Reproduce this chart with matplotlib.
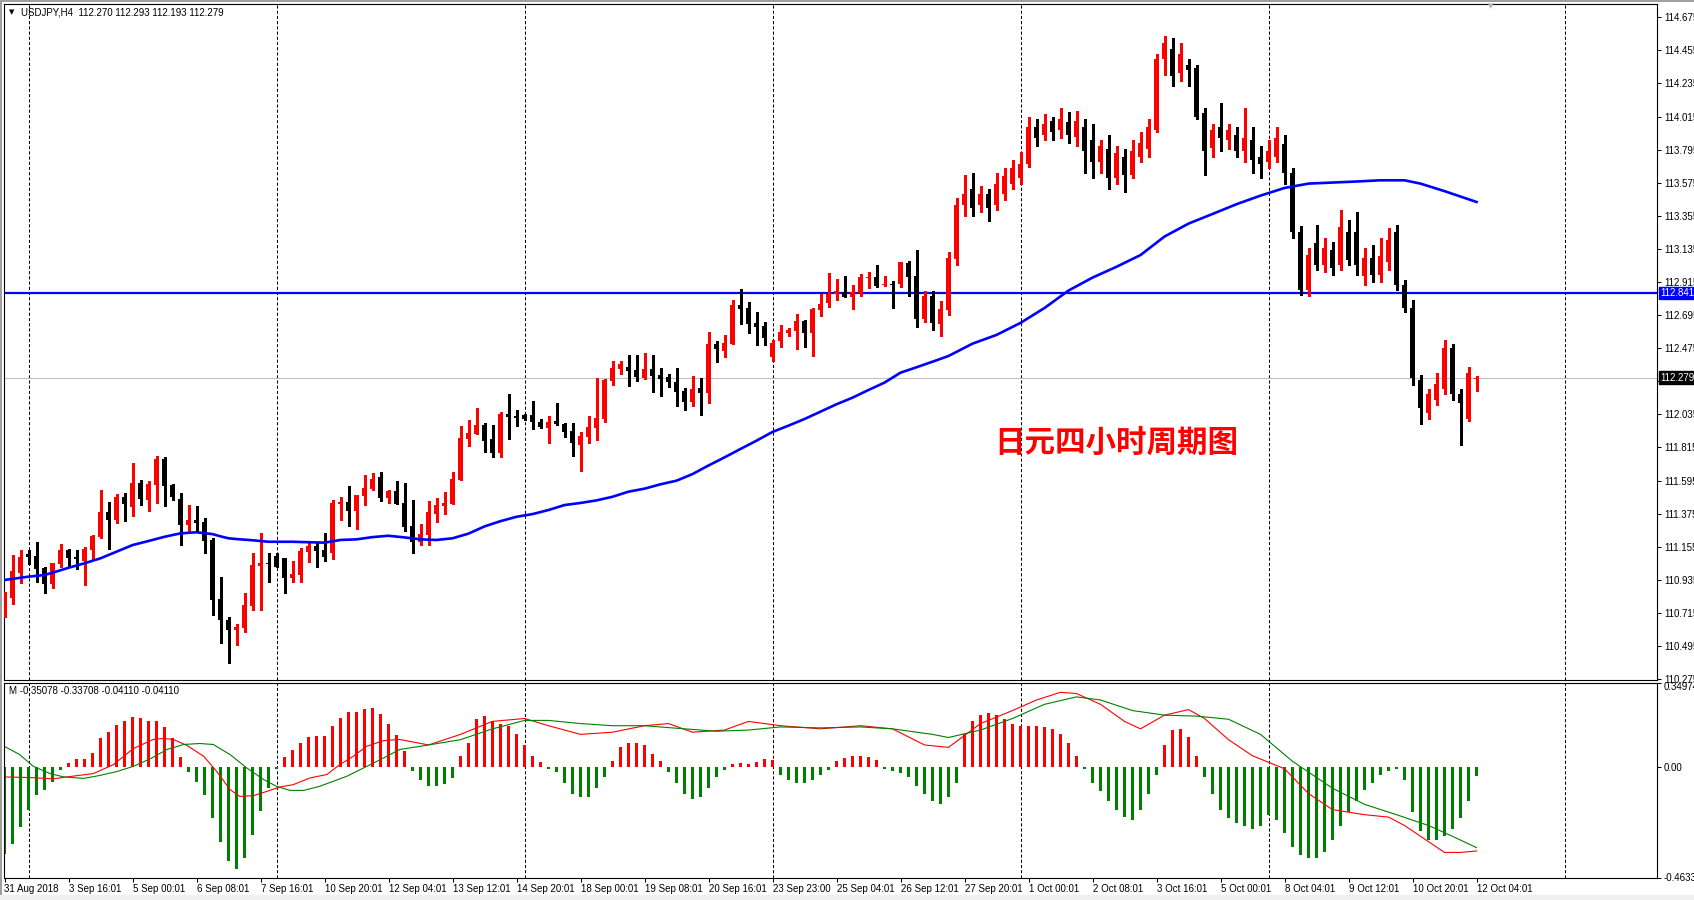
import numpy as np
import matplotlib
matplotlib.use('Agg')
import matplotlib.pyplot as plt
from matplotlib.patches import Rectangle

plt.rcParams['font.family'] = ['Liberation Sans', 'DejaVu Sans']
plt.rcParams['font.size'] = 7

W, H = 1694, 900

# USDJPY H4 candles, bar 0 = 31 Aug 2018
opens = np.array([
    110.821, 110.816, 110.982, 111.105, 111.093, 111.013, 110.907, 111.042, 111.133, 111.087,
    111.062, 111.133, 111.221, 111.386, 111.335, 111.485, 111.421, 111.579, 111.468, 111.567,
    111.738, 111.565, 111.472, 111.301, 111.333, 111.319, 111.200, 110.807, 110.668, 110.603,
    110.614, 110.761, 111.029, 111.047, 111.091, 111.080, 110.949, 110.969, 111.120, 111.160,
    111.133, 111.115, 111.441, 111.452, 111.394, 111.494, 111.541, 111.616, 111.481, 111.525,
    111.444, 111.293, 111.188, 111.235, 111.374, 111.428, 111.441, 111.600, 111.873, 111.906,
    111.964, 111.871, 111.780, 112.037, 112.024, 112.031, 112.031, 111.984, 111.946, 111.991,
    111.971, 111.924, 111.833, 111.886, 111.946, 112.004, 112.259, 112.339, 112.350, 112.330,
    112.279, 112.337, 112.297, 112.283, 112.250, 112.188, 112.117, 112.210, 112.179, 112.503,
    112.458, 112.503, 112.762, 112.742, 112.642, 112.620, 112.418, 112.525, 112.578, 112.591,
    112.656, 112.578, 112.729, 112.777, 112.837, 112.850, 112.817, 112.844, 112.944, 112.948,
    112.893, 112.904, 112.904, 113.039, 112.955, 112.671, 112.822, 112.638, 112.729, 113.068,
    113.427, 113.533, 113.427, 113.497, 113.427, 113.497, 113.569, 113.607, 113.700, 113.942,
    113.892, 113.985, 113.926, 113.979, 113.879, 113.942, 113.859, 113.713, 113.799, 113.607,
    113.746, 113.626, 113.749, 113.799, 113.928, 114.395, 114.467, 114.301, 114.358, 114.338,
    114.036, 113.806, 113.942, 113.856, 113.892, 113.786, 113.856, 113.748, 113.713, 113.748,
    113.835, 113.640, 113.247, 112.862, 113.174, 113.028, 113.128, 113.028, 113.247, 113.247,
    112.955, 113.075, 112.962, 113.048, 113.247, 112.895, 112.742, 112.263, 112.044, 112.130,
    112.204, 112.476, 112.170, 112.004, 112.270])
highs = np.array([
    110.856, 111.100, 111.133, 111.133, 111.186, 111.020, 111.050, 111.173, 111.142, 111.133,
    111.151, 111.230, 111.532, 111.452, 111.505, 111.510, 111.711, 111.599, 111.590, 111.758,
    111.753, 111.570, 111.512, 111.432, 111.426, 111.346, 111.215, 110.956, 110.690, 110.643,
    110.849, 111.113, 111.246, 111.113, 111.115, 111.080, 111.060, 111.146, 111.193, 111.182,
    111.246, 111.466, 111.487, 111.559, 111.500, 111.630, 111.643, 111.652, 111.530, 111.592,
    111.579, 111.466, 111.304, 111.459, 111.481, 111.517, 111.654, 111.958, 111.997, 112.075,
    111.975, 111.964, 112.051, 112.170, 112.064, 112.040, 112.124, 112.006, 112.024, 112.112,
    111.975, 111.975, 111.918, 112.024, 112.279, 112.270, 112.388, 112.388, 112.430, 112.430,
    112.443, 112.430, 112.343, 112.305, 112.343, 112.210, 112.290, 112.277, 112.585, 112.525,
    112.563, 112.795, 112.868, 112.782, 112.716, 112.651, 112.529, 112.629, 112.609, 112.702,
    112.660, 112.740, 112.835, 112.975, 112.935, 112.955, 112.895, 112.968, 112.981, 113.028,
    112.955, 112.922, 113.050, 113.055, 113.128, 112.855, 112.857, 112.789, 113.114, 113.473,
    113.626, 113.640, 113.553, 113.533, 113.640, 113.673, 113.726, 113.779, 114.012, 114.001,
    114.035, 114.012, 114.072, 114.045, 114.052, 114.001, 113.966, 113.859, 113.892, 113.819,
    113.799, 113.859, 113.912, 114.001, 114.431, 114.553, 114.539, 114.504, 114.398, 114.358,
    114.072, 113.966, 114.108, 113.966, 113.942, 114.072, 113.942, 113.819, 113.856, 113.942,
    113.892, 113.676, 113.287, 113.141, 113.294, 113.208, 113.181, 113.394, 113.327, 113.380,
    113.141, 113.161, 113.208, 113.274, 113.294, 112.928, 112.795, 112.297, 112.204, 112.310,
    112.529, 112.505, 112.204, 112.350, 112.293])
lows = np.array([
    110.690, 110.774, 110.916, 111.040, 110.922, 110.849, 110.882, 111.018, 111.018, 111.009,
    110.902, 111.067, 111.216, 111.142, 111.315, 111.328, 111.359, 111.432, 111.394, 111.448,
    111.428, 111.466, 111.168, 111.261, 111.255, 111.111, 110.703, 110.517, 110.380, 110.503,
    110.590, 110.734, 110.734, 110.922, 111.020, 110.849, 110.922, 110.922, 111.053, 111.022,
    111.060, 111.071, 111.335, 111.295, 111.275, 111.434, 111.534, 111.459, 111.448, 111.440,
    111.261, 111.111, 111.166, 111.166, 111.321, 111.370, 111.440, 111.600, 111.825, 111.905,
    111.787, 111.749, 111.753, 111.873, 111.960, 112.000, 111.936, 111.942, 111.847, 111.962,
    111.886, 111.760, 111.660, 111.847, 111.866, 111.986, 112.232, 112.305, 112.225, 112.259,
    112.272, 112.186, 112.159, 112.219, 112.093, 112.066, 112.090, 112.033, 112.112, 112.383,
    112.418, 112.500, 112.638, 112.578, 112.498, 112.498, 112.392, 112.485, 112.556, 112.470,
    112.483, 112.425, 112.691, 112.751, 112.795, 112.815, 112.737, 112.824, 112.877, 112.882,
    112.890, 112.744, 112.884, 112.824, 112.618, 112.651, 112.596, 112.558, 112.696, 113.028,
    113.354, 113.354, 113.380, 113.321, 113.394, 113.460, 113.533, 113.567, 113.680, 113.819,
    113.859, 113.859, 113.872, 113.839, 113.819, 113.640, 113.607, 113.640, 113.533, 113.567,
    113.513, 113.607, 113.713, 113.746, 113.912, 114.291, 114.218, 114.251, 114.218, 114.001,
    113.626, 113.746, 113.786, 113.799, 113.746, 113.713, 113.640, 113.607, 113.676, 113.713,
    113.569, 113.210, 112.829, 112.822, 112.995, 112.981, 112.962, 112.995, 113.028, 112.962,
    112.895, 112.915, 112.915, 112.995, 112.862, 112.716, 112.230, 111.974, 112.004, 112.097,
    112.170, 112.130, 111.831, 111.991, 112.193])
closes = np.array([
    110.827, 110.993, 111.087, 111.089, 111.009, 110.907, 111.047, 111.133, 111.082, 111.075,
    111.140, 111.226, 111.386, 111.335, 111.485, 111.441, 111.579, 111.474, 111.572, 111.738,
    111.561, 111.487, 111.301, 111.333, 111.315, 111.195, 110.801, 110.670, 110.601, 110.621,
    110.767, 111.033, 111.047, 111.038, 111.022, 110.949, 110.973, 111.126, 111.160, 111.126,
    111.089, 111.446, 111.452, 111.394, 111.499, 111.545, 111.605, 111.481, 111.525, 111.441,
    111.288, 111.188, 111.239, 111.386, 111.432, 111.446, 111.605, 111.878, 111.911, 111.964,
    111.860, 111.780, 112.037, 112.019, 112.009, 112.006, 111.986, 111.949, 111.984, 111.973,
    111.920, 111.847, 111.891, 111.951, 112.011, 112.263, 112.343, 112.370, 112.325, 112.281,
    112.337, 112.292, 112.270, 112.252, 112.186, 112.119, 112.204, 112.179, 112.503, 112.472,
    112.509, 112.762, 112.737, 112.638, 112.618, 112.545, 112.509, 112.583, 112.596, 112.656,
    112.578, 112.735, 112.769, 112.837, 112.855, 112.817, 112.850, 112.948, 112.950, 112.890,
    112.902, 112.897, 113.048, 112.950, 112.671, 112.822, 112.644, 112.735, 113.075, 113.427,
    113.497, 113.404, 113.497, 113.404, 113.569, 113.620, 113.676, 113.700, 113.942, 113.870,
    113.966, 113.912, 113.999, 113.892, 113.985, 113.786, 113.713, 113.819, 113.607, 113.773,
    113.626, 113.786, 113.842, 113.942, 114.395, 114.504, 114.287, 114.431, 114.325, 114.014,
    113.786, 113.928, 113.870, 113.928, 113.786, 113.870, 113.726, 113.700, 113.786, 113.870,
    113.640, 113.247, 112.862, 113.095, 113.028, 113.141, 113.008, 113.281, 113.061, 113.028,
    113.075, 112.962, 113.088, 113.194, 112.895, 112.742, 112.277, 112.077, 112.170, 112.240,
    112.476, 112.170, 112.110, 112.310, 112.279])

# blue moving average, read at selected bars
ma_bars = [0, 3, 5, 6, 8, 10, 12, 14, 16, 18, 20, 22, 24, 26, 27, 28, 29, 31, 33, 36,
           40, 42, 44, 46, 48, 50, 52, 54, 56, 58, 60, 62, 64, 66, 68, 70, 72, 74, 76, 78,
           80, 82, 84, 86, 88, 90, 92, 94, 96, 98, 100, 102, 104, 106, 108, 110, 112, 114, 116, 118,
           121, 124, 127, 130, 133, 136, 139, 142, 145, 148, 151, 154, 157, 160, 163, 166, 169, 172, 175, 177,
           180, 182, 184]
ma_vals = [110.934, 110.956, 110.967, 110.982, 111.015, 111.045, 111.078, 111.122, 111.166, 111.193,
           111.221, 111.244, 111.251, 111.239, 111.224, 111.211, 111.206, 111.198, 111.188, 111.188,
           111.182, 111.200, 111.204, 111.219, 111.228, 111.217, 111.204, 111.200, 111.211, 111.242,
           111.290, 111.325, 111.354, 111.372, 111.399, 111.432, 111.446, 111.463, 111.487, 111.521,
           111.541, 111.570, 111.594, 111.638, 111.695, 111.749, 111.805, 111.860, 111.918, 111.960,
           112.004, 112.053, 112.102, 112.146, 112.197, 112.246, 112.312, 112.348, 112.385, 112.423,
           112.505, 112.563, 112.643, 112.742, 112.858, 112.944, 113.016, 113.094, 113.217, 113.303,
           113.367, 113.432, 113.489, 113.540, 113.569, 113.576, 113.583, 113.591, 113.591, 113.569,
           113.519, 113.483, 113.447]

hline_level = 112.841
last_price = 112.279

# MACD panel
macd_hist = np.array([
    -0.364, -0.322, -0.253, -0.179, -0.119, -0.099, -0.065, -0.013, 0.017, 0.031,
    0.033, 0.058, 0.121, 0.143, 0.175, 0.188, 0.208, 0.203, 0.188, 0.188,
    0.163, 0.117, 0.038, -0.024, -0.065, -0.119, -0.215, -0.315, -0.394, -0.424,
    -0.382, -0.286, -0.186, -0.089, -0.012, 0.038, 0.071, 0.100, 0.125, 0.129,
    0.129, 0.167, 0.204, 0.225, 0.225, 0.238, 0.242, 0.217, 0.179, 0.133,
    0.065, -0.018, -0.055, -0.082, -0.082, -0.073, -0.046, 0.045, 0.098, 0.200,
    0.210, 0.188, 0.179, 0.170, 0.134, 0.090, 0.045, 0.018, -0.009, -0.022,
    -0.067, -0.112, -0.125, -0.125, -0.090, -0.045, 0.022, 0.080, 0.098, 0.098,
    0.090, 0.054, 0.022, -0.022, -0.067, -0.112, -0.134, -0.125, -0.090, -0.045,
    -0.014, 0.009, 0.014, 0.009, 0.018, 0.032, 0.027, -0.036, -0.054, -0.067,
    -0.067, -0.054, -0.036, -0.014, 0.022, 0.036, 0.045, 0.045, 0.040, 0.027,
    -0.009, -0.018, -0.027, -0.045, -0.081, -0.112, -0.143, -0.157, -0.125, -0.067,
    0.134, 0.188, 0.214, 0.224, 0.214, 0.200, 0.179, 0.170, 0.170, 0.170,
    0.165, 0.157, 0.134, 0.098, 0.045, -0.009, -0.067, -0.103, -0.143, -0.179,
    -0.210, -0.224, -0.179, -0.112, -0.036, 0.090, 0.152, 0.157, 0.125, 0.045,
    -0.045, -0.112, -0.179, -0.214, -0.233, -0.245, -0.259, -0.245, -0.200, -0.224,
    -0.277, -0.335, -0.366, -0.380, -0.380, -0.357, -0.304, -0.245, -0.188, -0.143,
    -0.098, -0.067, -0.036, -0.018, -0.009, -0.055, -0.188, -0.268, -0.304, -0.304,
    -0.290, -0.259, -0.214, -0.143, -0.041])

dif_bars = [0.2, 3.6, 6.1, 7.8, 11.1, 13.6, 16.1, 18.6, 19.9, 21.1, 22.8, 24.9, 26.5, 28.2, 29.4,
            31.1, 32.8, 34.4, 36.1, 38.2, 40.3, 41.9, 43.6, 45.3, 47.4, 49.4, 53, 57, 61, 65,
            68, 72, 76, 80, 83, 86, 90, 93, 97, 102, 107, 111, 115, 118, 122, 126, 129, 132, 134,
            137, 140, 142, 145, 148, 150, 153, 156, 160, 163, 166, 170, 173, 175, 178, 180, 182, 184]
dif_vals = [-0.043, -0.046, -0.051, -0.043, -0.029, 0.008, 0.075, 0.113, 0.117, 0.113, 0.088, 0.043,
            -0.019, -0.096, -0.124, -0.121, -0.103, -0.085, -0.075, -0.047, -0.033, 0.008, 0.043,
            0.085, 0.108, 0.113, 0.09, 0.134, 0.188, 0.2, 0.17, 0.134, 0.143, 0.17, 0.179, 0.143,
            0.152, 0.188, 0.17, 0.157, 0.17, 0.157, 0.09, 0.08, 0.179, 0.233, 0.277, 0.309, 0.304,
            0.259, 0.188, 0.157, 0.214, 0.237, 0.2, 0.112, 0.045, -0.009, -0.112, -0.179, -0.2,
            -0.21, -0.245, -0.312, -0.357, -0.357, -0.351]
dea_bars = [0.1, 1.9, 3.6, 5.7, 7.4, 9.9, 11.9, 14.0, 16.1, 18.2, 20.3, 22.4, 24.4, 26.1, 28.2,
            30.3, 32.4, 34.0, 35.7, 37.4, 39.4, 42.8, 45.3, 47.4, 49.4, 53, 57, 61, 65, 68,
            72, 76, 80, 85, 89, 93, 97, 102, 107, 111, 116, 118, 122, 126, 130, 134, 137, 141,
            145, 149, 153, 157, 161, 166, 170, 174, 178, 181, 184]
dea_vals = [0.082, 0.050, 0.001, -0.029, -0.043, -0.049, -0.037, -0.021, 0.001, 0.032, 0.071, 0.092,
            0.096, 0.092, 0.050, -0.006, -0.054, -0.082, -0.099, -0.099, -0.082, -0.040, 0.001,
            0.036, 0.071, 0.09, 0.112, 0.157, 0.192, 0.192, 0.179, 0.17, 0.17, 0.157, 0.147, 0.152,
            0.165, 0.161, 0.165, 0.157, 0.134, 0.121, 0.152, 0.2, 0.259, 0.29, 0.277, 0.233, 0.214,
            0.21, 0.197, 0.134, 0.022, -0.09, -0.157, -0.2, -0.245, -0.29, -0.337]

time_labels = ['31 Aug 2018', '3 Sep 16:01', '5 Sep 00:01', '6 Sep 08:01', '7 Sep 16:01',
               '10 Sep 20:01', '12 Sep 04:01', '13 Sep 12:01', '14 Sep 20:01', '18 Sep 00:01',
               '19 Sep 08:01', '20 Sep 16:01', '23 Sep 23:00', '25 Sep 04:01', '26 Sep 12:01',
               '27 Sep 20:01', '1 Oct 00:01', '2 Oct 08:01', '3 Oct 16:01', '5 Oct 00:01',
               '8 Oct 04:01', '9 Oct 12:01', '10 Oct 20:01', '12 Oct 04:01']
week_lines = [3.1, 34.1, 65.1, 96.1, 127.1, 158.1, 195.1]
price_ticks = [114.675, 114.455, 114.235, 114.015, 113.795, 113.575, 113.355, 113.135,
               112.915, 112.695, 112.475, 112.255, 112.035, 111.815, 111.595, 111.375,
               111.155, 110.935, 110.715, 110.495, 110.275]
macd_top, macd_bottom = 0.34974, -0.46332

fig = plt.figure(figsize=(W / 100, H / 100), dpi=100)
fig.patch.set_facecolor('white')
ax = fig.add_axes([4 / W, 1 - 680 / H, 1653 / W, 676 / H])
axm = fig.add_axes([4 / W, 1 - 878 / H, 1653 / W, 195.5 / H], sharex=ax)

x = np.arange(len(opens))
up = closes >= opens
colors = np.where(up, '#ff0000', '#000000')
body = np.maximum(np.abs(closes - opens), 0.007)
ax.vlines(x, lows, highs, colors=colors, lw=0.75, antialiased=False, zorder=3)
ax.bar(x, body, bottom=np.minimum(opens, closes), width=0.66, color=colors,
       lw=0, antialiased=False, zorder=4)

ax.plot(ma_bars, ma_vals, color='#0000ff', lw=1.9, zorder=5)
ax.axhline(hline_level, color='#0000ff', lw=1.6, zorder=2)
ax.axhline(last_price, color='#c0c0c0', lw=0.8, zorder=1)

for a in (ax, axm):
    for wx in week_lines:
        a.axvline(wx, color='black', lw=0.75, ls=(0, (3, 2)), zorder=0.5)
    for s in a.spines.values():
        s.set_linewidth(0.8)
        s.set_color('black')

ax.set_xlim(-0.0625, 206.5625)
ax.set_ylim(110.269, 114.763)
ax.yaxis.tick_right()
ax.set_yticks(price_ticks)
ax.set_yticklabels(['%.3f' % p for p in price_ticks])
ax.tick_params(axis='y', length=3, width=0.75, pad=2, labelsize=7)
ax.tick_params(axis='x', bottom=False, labelbottom=False)

# MACD
hist_colors = np.where(macd_hist >= 0, '#ff0000', '#008000')
axm.bar(x, macd_hist, width=0.4, color=hist_colors, lw=0, antialiased=False, zorder=2)
axm.plot(dif_bars, dif_vals, color='#ff0000', lw=0.8, zorder=3)
axm.plot(dea_bars, dea_vals, color='#008000', lw=0.8, zorder=3)
axm.set_ylim(macd_bottom, macd_top)
axm.yaxis.tick_right()
axm.set_yticks([macd_top, 0.0, macd_bottom])
axm.set_yticklabels(['%.5f' % macd_top, '0.00', '%.5f' % macd_bottom])
axm.tick_params(axis='y', length=3, width=0.75, pad=2, labelsize=7)
ylabs = axm.get_yticklabels()
ylabs[0].set_va('top')
ylabs[2].set_va('center')

axm.set_xticks(np.arange(0, len(opens), 8))
axm.set_xticklabels(time_labels)
axm.tick_params(axis='x', length=3, width=0.75, pad=1.5, labelsize=7)
for lab in axm.get_xticklabels():
    lab.set_ha('left')

# price tags on the right scale
for level, fc in ((hline_level, '#0000ff'), (last_price, '#000000')):
    ax.annotate('%.3f' % level, xy=(1, level), xycoords=('axes fraction', 'data'),
                xytext=(3, 0), textcoords='offset pixels', va='center', ha='left',
                color='white', fontsize=7, annotation_clip=False, zorder=10,
                bbox=dict(boxstyle='square,pad=0.12', fc=fc, ec=fc))

# texts
fig.text(9 / W, 1 - 12.5 / H, '\u25bc', fontsize=5, va='center', ha='left',
         family=['DejaVu Sans'])
fig.text(20.5 / W, 1 - 12.7 / H, 'USDJPY,H4  112.270 112.293 112.193 112.279',
         fontsize=7, va='center', ha='left')
fig.text(9 / W, 1 - 691.5 / H, 'M -0.35078 -0.33708 -0.04110 -0.04110',
         fontsize=7, va='center', ha='left')
fig.text(1491 / W, 1 - 6 / H, '\u25bc', fontsize=5, va='center', ha='center',
         color='#b0b0b0', family=['DejaVu Sans'])
fig.text(994 / W, 1 - 443 / H, '日元四小时周期图', color='#ff0000', fontsize=22,
         fontweight='bold', va='center', ha='left',
         family=['Noto Sans CJK SC', 'DejaVu Sans'])

# window frame
fig.add_artist(Rectangle((0, 1 - 2 / H), 1, 2 / H, transform=fig.transFigure,
                         fc='#a0a0a0', ec='none'))
fig.add_artist(Rectangle((0, 0), 2 / W, 1, transform=fig.transFigure,
                         fc='#a0a0a0', ec='none'))
fig.add_artist(Rectangle((0, 0), 1, 5 / H, transform=fig.transFigure,
                         fc='#f0f0f0', ec='none'))

fig.savefig('out.png', dpi=100, facecolor='white')
